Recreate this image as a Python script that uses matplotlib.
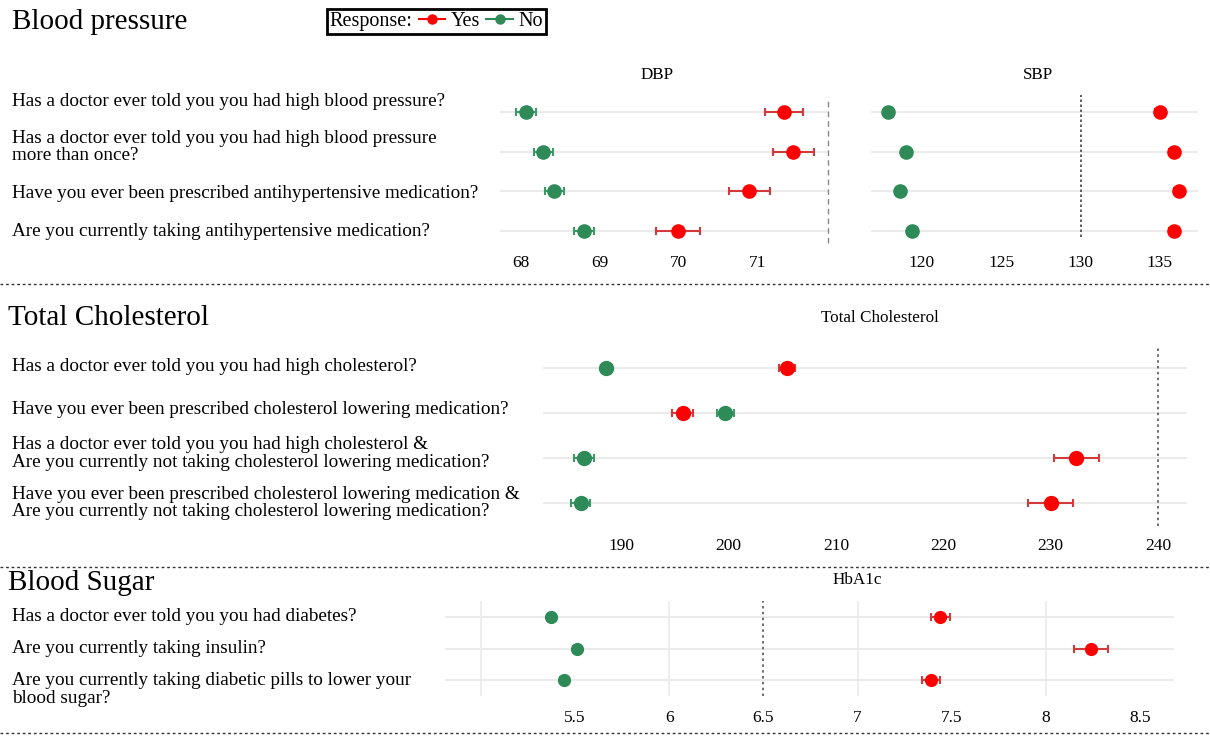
import matplotlib
matplotlib.use("Agg")
import matplotlib.pyplot as plt
from matplotlib.lines import Line2D
from matplotlib.transforms import blended_transform_factory

plt.rcParams['font.family'] = ['Liberation Serif', 'DejaVu Serif']

# ---- data ----
bp_questions = ["Has a doctor ever told you you had high blood pressure?",
                "Has a doctor ever told you you had high blood pressure\nmore than once?",
                "Have you ever been prescribed antihypertensive medication?",
                "Are you currently taking antihypertensive medication?"]
dbp_yes = [71.34, 71.46, 70.90, 69.99]
dbp_yes_err = [0.24, 0.26, 0.26, 0.28]
dbp_no = [68.06, 68.28, 68.42, 68.80]
dbp_no_err = [0.13, 0.12, 0.12, 0.13]
dbp_ticks = [68, 69, 70, 71]

sbp_yes = [135.0, 135.9, 136.2, 135.9]
sbp_yes_err = [0.3, 0.3, 0.3, 0.3]
sbp_no = [117.9, 119.0, 118.6, 119.4]
sbp_no_err = [0.2, 0.2, 0.2, 0.2]
sbp_ticks = [120, 125, 130, 135]
sbp_ref = 130

chol_questions = ["Has a doctor ever told you you had high cholesterol?",
                  "Have you ever been prescribed cholesterol lowering medication?",
                  "Has a doctor ever told you you had high cholesterol &\nAre you currently not taking cholesterol lowering medication?",
                  "Have you ever been prescribed cholesterol lowering medication &\nAre you currently not taking cholesterol lowering medication?"]
chol_yes = [205.4, 195.7, 232.4, 230.0]
chol_yes_err = [0.75, 0.95, 2.1, 2.1]
chol_no = [188.6, 199.7, 186.5, 186.2]
chol_no_err = [0.5, 0.75, 0.95, 0.9]
chol_ticks = [190, 200, 210, 220, 230, 240]
chol_ref = 240

hba_questions = ["Has a doctor ever told you you had diabetes?",
                 "Are you currently taking insulin?",
                 "Are you currently taking diabetic pills to lower your\nblood sugar?"]
hba_yes = [7.44, 8.24, 7.39]
hba_yes_err = [0.05, 0.09, 0.05]
hba_no = [5.375, 5.51, 5.44]
hba_no_err = [0.02, 0.02, 0.02]
hba_ticks = [5.5, 6, 6.5, 7, 7.5, 8, 8.5]
hba_grid = [5, 6, 7, 8]
hba_ref = 6.5

RED = '#FF0000'
RED_ERR = '#D23B3B'
GREEN = '#2E8B57'
GREEN_ERR = '#3C9A66'

W, H = 1210, 736
fig = plt.figure(figsize=(W / 100, H / 100), dpi=100)


def px_axes(left, top, right, bottom):
    return fig.add_axes([left / W, 1 - bottom / H, (right - left) / W, (bottom - top) / H])


def dot_panel(ax, yes, yes_err, no, no_err, ticks, xlim, ms=9.5, pad=3):
    rows = list(range(len(yes)))
    ax.errorbar(no, rows, xerr=no_err, fmt='o', color=GREEN, ecolor=GREEN_ERR,
                ms=ms, capsize=3, elinewidth=1.5, capthick=1.5, zorder=3)
    ax.errorbar(yes, rows, xerr=yes_err, fmt='o', color=RED, ecolor=RED_ERR,
                ms=ms, capsize=3, elinewidth=1.5, capthick=1.5, zorder=3)
    ax.set_xlim(*xlim)
    ax.set_ylim(len(yes) - 0.5, -0.5)
    ax.set_yticks(rows)
    ax.set_yticklabels([])
    ax.set_xticks(ticks, labels=[f'{t:g}' for t in ticks])
    ax.tick_params(length=0, labelsize=12.5, pad=pad)
    ax.grid(axis='y', color='#EBEBEB', lw=1.5)
    ax.set_axisbelow(True)
    for s in ax.spines.values():
        s.set_visible(False)
    return rows


def questions(ax, texts, rows, dy=None):
    tr = blended_transform_factory(fig.transFigure, ax.transData)
    for i, (t, r) in enumerate(zip(texts, rows)):
        off = dy[i] if dy else 0
        ax.text(12 / W, r + off, t, transform=tr, ha='left', va='center', fontsize=13.8,
                linespacing=1.05, clip_on=False)


# ---- Blood pressure ----
fig.text(12 / W, 1 - 22 / H, "Blood pressure", fontsize=21, va='center', ha='left')

ax_dbp = px_axes(500, 92, 828, 251)
rows = dot_panel(ax_dbp, dbp_yes, dbp_yes_err, dbp_no, dbp_no_err, dbp_ticks, (67.73, 71.9), pad=3)
ax_dbp.axvline(71.9, ymin=0.05, ymax=0.97, color='#888888', ls=(0, (4, 3)), lw=1, clip_on=False)
questions(ax_dbp, bp_questions, rows, dy=[-0.27, -0.12, 0.05, 0])
fig.text(657 / W, 1 - 75 / H, "DBP", fontsize=12.3, ha='center', va='center')

ax_sbp = px_axes(871, 92, 1198, 251)
dot_panel(ax_sbp, sbp_yes, sbp_yes_err, sbp_no, sbp_no_err, sbp_ticks, (116.8, 137.4), pad=3)
ax_sbp.axvline(sbp_ref, ymin=0.09, ymax=0.98, color='#444444', ls=(0, (1.5, 1.5)), lw=1.2)
fig.text(1038 / W, 1 - 75 / H, "SBP", fontsize=12.3, ha='center', va='center')

# legend
h_yes = Line2D([], [], color=RED, marker='o', ms=6.5, lw=1.5)
h_no = Line2D([], [], color=GREEN, marker='o', ms=6.5, lw=1.5)
leg = fig.legend([h_yes, h_no], ['Yes', 'No'], title='Response:', ncol=2,
                 loc='center', bbox_to_anchor=(436.5 / W, 1 - 21.5 / H),
                 fontsize=14.5, title_fontsize=14.5, handlelength=1.3,
                 handletextpad=0.3, columnspacing=0.3, borderpad=0.15,
                 borderaxespad=0, fancybox=False, framealpha=1, edgecolor='black')
leg.get_frame().set_linewidth(2)
c = leg.get_children()[0]
title_box, hpack = c.get_children()[0], c.get_children()[1]
c._children = [hpack]
hpack._children = [title_box] + hpack.get_children()

# ---- Total Cholesterol ----
fig.text(8 / W, 1 - 318 / H, "Total Cholesterol", fontsize=21, va='center', ha='left')
ax_chol = px_axes(543, 345.5, 1187, 525.5)
rows = dot_panel(ax_chol, chol_yes, chol_yes_err, chol_no, chol_no_err, chol_ticks, (182.7, 242.7), ms=10, pad=9)
ax_chol.axvline(chol_ref, color='#555555', ls=(0, (1.5, 2)), lw=1.2)
questions(ax_chol, chol_questions, rows, dy=[-0.03, -0.07, -0.1, 0])
fig.text(880 / W, 1 - 318 / H, "Total Cholesterol", fontsize=12.3, ha='center', va='center')

# ---- Blood Sugar ----
fig.text(8 / W, 1 - 583 / H, "Blood Sugar", fontsize=21, va='center', ha='left')
ax_hba = px_axes(445, 601, 1174, 696)
rows = dot_panel(ax_hba, hba_yes, hba_yes_err, hba_no, hba_no_err, hba_ticks, (4.81, 8.68), ms=8.5, pad=10)
for g in hba_grid:
    ax_hba.axvline(g, color='#EBEBEB', lw=1.2, zorder=0)
ax_hba.axvline(hba_ref, color='#555555', ls=(0, (1.5, 2)), lw=1.2)
questions(ax_hba, hba_questions, rows, dy=[0, 0, 0.3])
fig.text(857 / W, 1 - 580 / H, "HbA1c", fontsize=12.3, ha='center', va='center')

# dotted separators
for ysep in [284, 567, 733]:
    fig.add_artist(Line2D([0, 1], [1 - ysep / H] * 2, transform=fig.transFigure,
                          color='#333333', ls=(0, (2, 2)), lw=1))

fig.savefig("out.png", dpi=100)
